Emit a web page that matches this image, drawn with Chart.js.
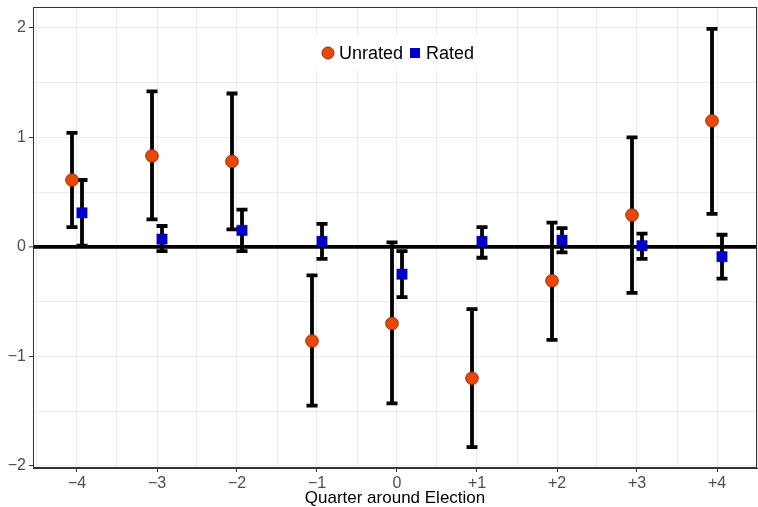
<!DOCTYPE html>
<html>
<head>
<meta charset="utf-8">
<title>Quarter around Election</title>
<script src="https://cdn.jsdelivr.net/npm/chart.js@4.4.1/dist/chart.umd.min.js"></script>
<style>
  html, body { margin: 0; padding: 0; background: #fff; }
  #wrap { width: 758px; height: 507px; }
</style>
</head>
<body>
<div id="wrap"><canvas id="chart" width="758" height="507"></canvas></div>
<script>
// Data
const quarters = [-4, -3, -2, -1, 0, 1, 2, 3, 4];
const quarterLabels = ['−4', '−3', '−2', '−1', '0', '+1', '+2', '+3', '+4'];
const yTickValues = [-2, -1, 0, 1, 2];
const yTickLabels = ['−2', '−1', '0', '1', '2'];

const unratedMean = [0.61, 0.83, 0.78, -0.86, -0.70, -1.20, -0.31, 0.29, 1.15];
const unratedLow  = [0.18, 0.25, 0.16, -1.45, -1.43, -1.83, -0.85, -0.42, 0.30];
const unratedHigh = [1.04, 1.42, 1.40, -0.26, 0.04, -0.57, 0.22, 1.00, 1.99];

const ratedMean = [0.31, 0.07, 0.15, 0.05, -0.25, 0.05, 0.06, 0.01, -0.09];
const ratedLow  = [0.01, -0.04, -0.04, -0.11, -0.46, -0.10, -0.05, -0.11, -0.29];
const ratedHigh = [0.61, 0.19, 0.34, 0.21, -0.04, 0.18, 0.17, 0.12, 0.11];

const DODGE = 0.0625;
const FONT = '"Liberation Sans", Arial, Helvetica, sans-serif';

function buildPoints(mean, low, high, shift) {
    return quarters.map((q, i) => ({ x: q + shift, y: mean[i], low: low[i], high: high[i] }));
}

// Error bars, drawn under the points
const errorBars = {
    id: 'errorBars',
    beforeDatasetsDraw(chart) {
        const { ctx, scales: { x, y } } = chart;
        const cap = 5.5;
        ctx.save();
        ctx.strokeStyle = '#000';
        ctx.lineWidth = 3.8;
        chart.data.datasets.forEach(ds => {
            ds.data.forEach(p => {
                const px = x.getPixelForValue(p.x);
                const lo = y.getPixelForValue(p.low);
                const hi = y.getPixelForValue(p.high);
                ctx.beginPath();
                ctx.moveTo(px, lo); ctx.lineTo(px, hi);
                ctx.moveTo(px - cap, lo); ctx.lineTo(px + cap, lo);
                ctx.moveTo(px - cap, hi); ctx.lineTo(px + cap, hi);
                ctx.stroke();
            });
        });
        ctx.restore();
    }
};

// Panel border + legend inside the panel
const panelExtras = {
    id: 'panelExtras',
    afterDatasetsDraw(chart) {
        const { ctx, chartArea: a } = chart;
        ctx.save();
        // legend
        ctx.font = '18px ' + FONT;
        ctx.textBaseline = 'middle';
        const items = chart.data.datasets.map(ds => ({ ds, w: ctx.measureText(ds.label).width }));
        const keyW = 12, gap = 5, sep = 6, pad = 9;
        let total = pad * 2;
        items.forEach((it, i) => { total += keyW + gap + it.w + (i ? sep : 0); });
        const cx = (a.left + a.right) / 2 + 3;
        const cy = a.top + 46;
        let xx = cx - total / 2;
        ctx.fillStyle = '#fff';
        ctx.fillRect(xx, cy - 17, total, 34);
        xx += pad;
        items.forEach((it, i) => {
            if (i) xx += sep;
            const ds = it.ds;
            const kx = xx + keyW / 2;
            ctx.fillStyle = ds.backgroundColor;
            ctx.strokeStyle = ds.borderColor;
            ctx.lineWidth = ds.borderWidth;
            if (ds.pointStyle === 'circle') {
                ctx.beginPath();
                ctx.arc(kx, cy, 6, 0, Math.PI * 2);
                ctx.fill(); ctx.stroke();
            } else {
                ctx.fillRect(kx - 5, cy - 5, 10, 10);
            }
            xx += keyW + gap;
            ctx.fillStyle = '#000';
            ctx.fillText(ds.label, xx, cy + 1);
            xx += it.w;
        });
        // border
        ctx.strokeStyle = '#333';
        ctx.lineWidth = 1;
        ctx.strokeRect(a.left + 0.5, a.top + 0.5, a.right - a.left - 1, a.bottom - a.top - 1);
        ctx.restore();
    }
};

const isWhole = v => Math.abs(v - Math.round(v)) < 1e-6;

// drop the label overhang padding so the panel fills the canvas like the original
function noOverhang(s) {
    s.paddingLeft = 0; s.paddingRight = 0;
    s.paddingTop = 0; s.paddingBottom = 0;
}

const ctx = document.getElementById('chart').getContext('2d');
const chart = new Chart(ctx, {
    type: 'scatter',
    data: {
        datasets: [{
            label: 'Unrated',
            data: buildPoints(unratedMean, unratedLow, unratedHigh, -DODGE),
            pointStyle: 'circle',
            pointRadius: 6.3,
            backgroundColor: '#E8490B',
            borderColor: '#9A2E00',
            borderWidth: 1
        }, {
            label: 'Rated',
            data: buildPoints(ratedMean, ratedLow, ratedHigh, DODGE),
            pointStyle: 'rect',
            pointRadius: 7.3,
            backgroundColor: '#0000CC',
            borderColor: '#00009A',
            borderWidth: 0.5
        }]
    },
    options: {
        responsive: false,
        animation: false,
        devicePixelRatio: 1,
        layout: { autoPadding: false, padding: { top: 7, right: 1, left: 0, bottom: 0 } },
        plugins: {
            legend: { display: false },
            tooltip: { enabled: false }
        },
        scales: {
            x: {
                type: 'linear',
                min: -4.55,
                max: 4.5,
                afterFit: s => { s.height = 39; noOverhang(s); },
                afterBuildTicks: s => {
                    const t = [];
                    for (let v = -4.5; v <= 4.5 + 1e-6; v += 0.5) t.push({ value: v });
                    s.ticks = t;
                },
                grid: {
                    color: '#EBEBEB',
                    lineWidth: 1,
                    tickLength: 4,
                    tickColor: c => isWhole(c.tick.value) ? '#333' : 'rgba(0,0,0,0)',
                    tickWidth: 1
                },
                border: { display: true, color: '#333', width: 1 },
                ticks: {
                    autoSkip: false,
                    maxRotation: 0,
                    padding: 2,
                    color: '#4D4D4D',
                    font: { family: FONT, size: 16 },
                    callback: v => {
                        const i = quarters.findIndex(q => Math.abs(q - v) < 1e-6);
                        return i >= 0 ? quarterLabels[i] : '';
                    }
                },
                title: {
                    display: true,
                    text: 'Quarter around Election',
                    color: '#000',
                    padding: { top: 0, bottom: -2 },
                    font: { family: FONT, size: 17 }
                }
            },
            y: {
                min: -2.02,
                max: 2.19,
                afterFit: s => { s.width = 33; noOverhang(s); },
                afterBuildTicks: s => {
                    const t = [];
                    for (let v = -2; v <= 2 + 1e-6; v += 0.5) t.push({ value: v });
                    s.ticks = t;
                },
                grid: {
                    color: c => Math.abs(c.tick.value) < 1e-6 ? '#000' : '#EBEBEB',
                    lineWidth: c => Math.abs(c.tick.value) < 1e-6 ? 3.8 : 1,
                    tickLength: 4,
                    tickColor: c => isWhole(c.tick.value) ? '#333' : 'rgba(0,0,0,0)',
                    tickWidth: 1
                },
                border: { display: true, color: '#333', width: 1 },
                ticks: {
                    autoSkip: false,
                    padding: 3,
                    color: '#4D4D4D',
                    font: { family: FONT, size: 16 },
                    callback: v => {
                        const i = yTickValues.findIndex(q => Math.abs(q - v) < 1e-6);
                        return i >= 0 ? yTickLabels[i] : '';
                    }
                }
            }
        }
    },
    plugins: [errorBars, panelExtras]
});
</script>
</body>
</html>
